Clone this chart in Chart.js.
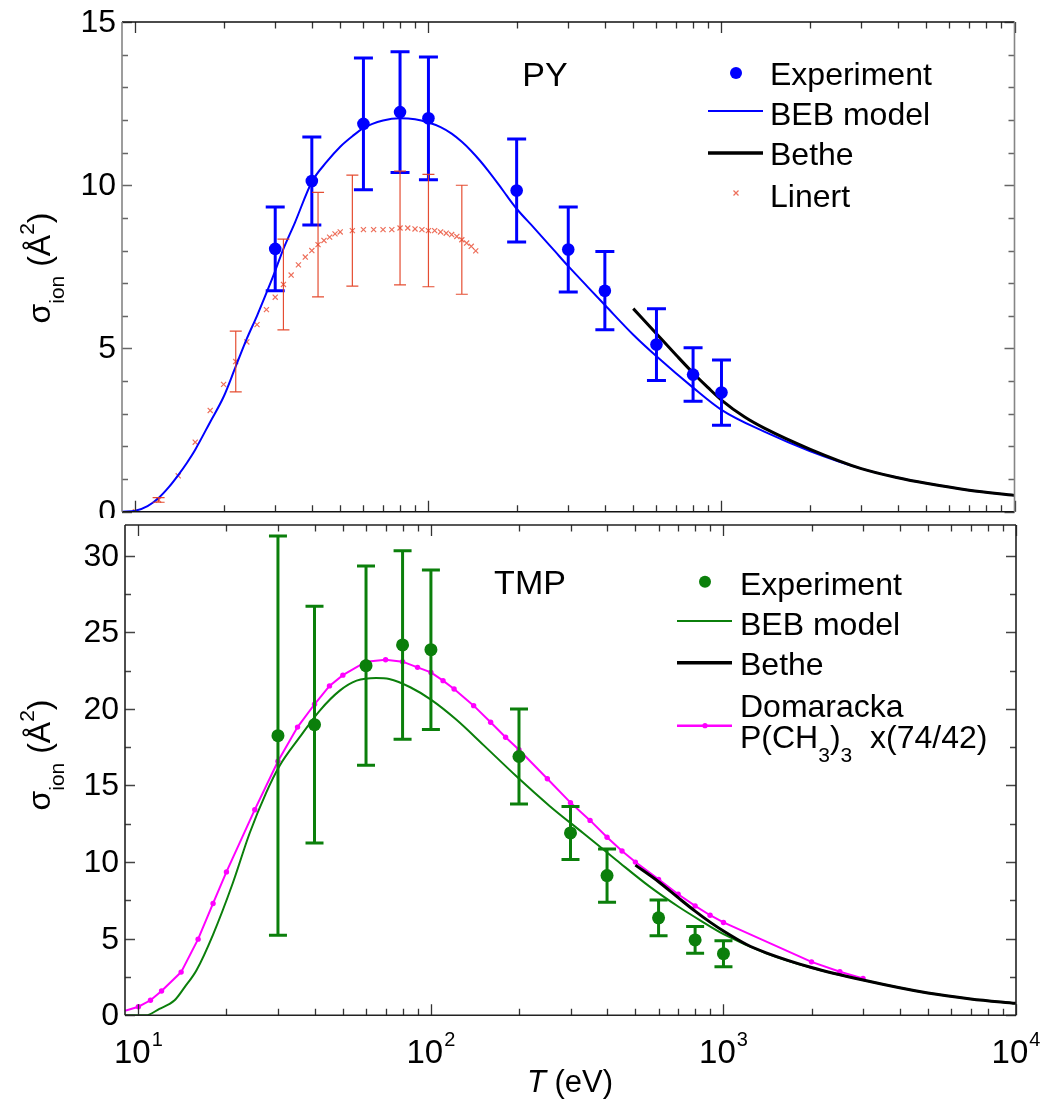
<!DOCTYPE html>
<html>
<head>
<meta charset="utf-8">
<script src="https://cdn.jsdelivr.net/npm/chart.js@4/dist/chart.umd.min.js"></script>
<style>
html,body{margin:0;padding:0;background:#fff;}
#wrap{position:relative;width:1043px;height:1101px;overflow:hidden;}
#c1{position:absolute;left:0;top:0;}
#c2{position:absolute;left:0;top:518px;}
</style>
</head>
<body>
<div id="wrap">
<canvas id="c1" width="1043" height="518"></canvas>
<canvas id="c2" width="1043" height="583"></canvas>
</div>
<script>
// ===================== DATA =====================
// Shared x axis (T in eV, logarithmic)
const xTickDecades = [10, 100, 1000];
const xTickMultipliers = [1, 2, 3, 4, 5, 6, 7, 8, 9];
const xLabelValues = [10, 100, 1000, 10000];

// ---- PY panel ----
const pyExpE   = [30, 40, 60, 80, 100, 200, 300, 400, 600, 800, 1000];
const pyExpV   = [8.05, 10.13, 11.88, 12.24, 12.05, 9.84, 8.03, 6.77, 5.12, 4.2, 3.65];
const pyExpErr = [1.28, 1.35, 2.02, 1.85, 1.88, 1.58, 1.3, 1.2, 1.1, 0.82, 1.0];

const pyBebE = [9, 10, 11, 12, 13, 14, 15, 16, 18, 20, 22, 24, 26, 28, 30, 32, 35, 40, 45, 50, 55, 60, 70, 80, 90, 100, 110, 120, 130, 140, 150, 160, 175, 185, 200, 230, 270, 300, 350, 400, 500, 600, 800, 1000, 1400, 2000, 3000, 4000, 5000, 7000, 10000];
const pyBebV = [0, 0.03, 0.17, 0.42, 0.75, 1.12, 1.5, 1.9, 2.75, 3.52, 4.45, 5.3, 6.0, 6.7, 7.38, 8.05, 8.85, 10.1, 10.72, 11.18, 11.5, 11.75, 11.98, 12.05, 12.02, 11.92, 11.78, 11.58, 11.33, 11.05, 10.75, 10.44, 9.98, 9.68, 9.28, 8.68, 7.98, 7.52, 6.88, 6.33, 5.42, 4.76, 3.8, 3.12, 2.45, 1.86, 1.32, 1.04, 0.87, 0.66, 0.5];

const pyBetheE = [500, 600, 700, 800, 900, 1000, 1200, 1400, 2000, 3000, 4000, 5000, 7000, 10000];
const pyBetheV = [6.22, 5.45, 4.8, 4.25, 3.8, 3.42, 2.9, 2.56, 1.92, 1.32, 1.04, 0.87, 0.66, 0.5];

const linertE   = [10, 12, 14, 16, 18, 20, 22, 24, 26, 28, 30, 32, 34, 36, 38, 40, 42, 44, 46, 48, 50, 55, 60, 65, 70, 75, 80, 85, 90, 95, 100, 105, 110, 115, 120, 125, 130, 135, 140, 145];
const linertV   = [0.0, 0.36, 1.1, 2.13, 3.1, 3.9, 4.6, 5.2, 5.73, 6.19, 6.57, 6.96, 7.25, 7.56, 7.8, 8.0, 8.18, 8.31, 8.41, 8.51, 8.57, 8.61, 8.64, 8.64, 8.64, 8.64, 8.69, 8.69, 8.66, 8.64, 8.61, 8.61, 8.57, 8.53, 8.49, 8.43, 8.33, 8.23, 8.13, 7.99];
const linertErr = [null, 0.07, null, null, null, null, 0.93, null, null, null, null, 1.39, null, null, null, null, 1.6, null, null, null, null, 1.7, null, null, null, null, 1.74, null, null, null, 1.72, null, null, null, null, null, 1.67, null, null, null];

// ---- TMP panel ----
const tmpExpE   = [30, 40, 60, 80, 100, 200, 300, 400, 600, 800, 1000];
const tmpExpV   = [18.25, 18.97, 22.82, 24.17, 23.86, 16.89, 11.9, 9.12, 6.36, 4.92, 4.02];
const tmpExpErr = [13.03, 7.72, 6.5, 6.15, 5.2, 3.1, 1.73, 1.74, 1.17, 0.87, 0.85];

const tmpBebE = [9, 10.6, 11.8, 13.3, 14.4, 15.8, 18, 21, 24, 27.4, 30.4, 35.6, 41.7, 48.8, 55.7, 65, 72, 85, 100, 122, 151, 196, 255, 332, 431, 561, 700, 832, 1000, 1400, 2000, 3000, 5000, 7000, 10000];
const tmpBebV = [0, 0, 0.42, 0.98, 1.84, 2.94, 5.27, 8.6, 11.88, 14.57, 16.29, 18.15, 19.89, 21.19, 21.84, 22.02, 21.95, 21.41, 20.6, 19.3, 17.65, 15.6, 13.65, 11.88, 10.12, 8.38, 7.1, 6.2, 5.3, 4.05, 3.1, 2.3, 1.45, 1.07, 0.78];

const tmpBetheE = [500, 600, 700, 800, 900, 1000, 1200, 1400, 2000, 3000, 5000, 7000, 10000];
const tmpBetheV = [9.8, 8.72, 7.68, 6.8, 6.08, 5.5, 4.62, 4.08, 3.12, 2.3, 1.45, 1.07, 0.78];

const domE = [9, 10, 11, 12, 14, 16, 18, 20, 25, 30, 35, 40, 45, 50, 60, 70, 80, 90, 100, 110, 120, 140, 160, 180, 200, 250, 300, 350, 400, 450, 500, 600, 700, 800, 900, 1000, 2000, 2500, 3000];
const domV = [0.3, 0.56, 0.98, 1.59, 2.82, 4.97, 7.3, 9.36, 13.42, 16.58, 18.81, 20.3, 21.5, 22.2, 23.08, 23.21, 23.08, 22.71, 22.38, 21.84, 21.3, 20.21, 19.13, 18.15, 17.33, 15.44, 13.88, 12.72, 11.62, 10.72, 10.0, 8.87, 7.9, 7.14, 6.53, 6.06, 3.49, 2.84, 2.41];

// ===================== HELPERS =====================
const FONT = "'Liberation Sans', Arial, Helvetica, sans-serif";
const BLUE = '#0000ff', GREEN = '#0b7f0b', MAGENTA = '#ff00ff';
const LRED = 'rgba(232,70,45,0.78)';

function pts(xs, ys) { return xs.map((x, i) => ({x: x, y: ys[i]})); }

const errorBarPlugin = {
  id: 'errorBars',
  afterDatasetsDraw(chart) {
    const ctx = chart.ctx, ys = chart.scales.y, a = chart.chartArea;
    ctx.save();
    ctx.beginPath();
    ctx.rect(a.left, a.top - 1, a.right - a.left, a.bottom - a.top + 2);
    ctx.clip();
    chart.data.datasets.forEach((ds, i) => {
      if (!ds.errorBars) return;
      const meta = chart.getDatasetMeta(i);
      const eb = ds.errorBars;
      ctx.strokeStyle = eb.color;
      ctx.lineWidth = eb.width;
      ds.data.forEach((p, j) => {
        const e = eb.values[j];
        if (e === null || e === undefined) return;
        const x = meta.data[j].x;
        const y1 = ys.getPixelForValue(p.y + e);
        const y2 = ys.getPixelForValue(p.y - e);
        ctx.beginPath();
        ctx.moveTo(x, y1); ctx.lineTo(x, y2);
        ctx.moveTo(x - eb.cap / 2, y1); ctx.lineTo(x + eb.cap / 2, y1);
        ctx.moveTo(x - eb.cap / 2, y2); ctx.lineTo(x + eb.cap / 2, y2);
        ctx.stroke();
      });
    });
    ctx.restore();
  }
};

function drawYTitle(ctx, cx, cy) {
  ctx.save();
  ctx.translate(cx, cy);
  ctx.rotate(-Math.PI / 2);
  const big = '32px ' + FONT, small = '21px ' + FONT;
  const parts = [
    {t: '\u03C3', f: big, dy: 0},
    {t: 'ion', f: small, dy: 14},
    {t: ' (\u00C5', f: big, dy: 0},
    {t: '2', f: small, dy: -16},
    {t: ')', f: big, dy: 0}
  ];
  let total = 0;
  parts.forEach(p => { ctx.font = p.f; p.w = ctx.measureText(p.t).width; total += p.w; });
  let x = -total / 2;
  ctx.fillStyle = '#000';
  ctx.textBaseline = 'alphabetic';
  ctx.textAlign = 'left';
  parts.forEach(p => { ctx.font = p.f; ctx.fillText(p.t, x, p.dy); x += p.w; });
  ctx.restore();
}

function axesPlugin(cfg) {
  return {
    id: 'axes_' + cfg.name,
    afterDraw(chart) {
      const ctx = chart.ctx, a = chart.chartArea, xs = chart.scales.x, ys = chart.scales.y;
      ctx.save();
      // x ticks (inward, bottom and top)
      const xv = [];
      xTickDecades.forEach(d => xTickMultipliers.forEach(m => xv.push(m * d)));
      xv.push(10000);
      ctx.strokeStyle = cfg.tickColor;
      ctx.lineWidth = 1.3;
      xv.forEach(v => {
        if (v < xs.min || v > xs.max) return;
        const px = Math.round(xs.getPixelForValue(v)) + 0.5;
        const major = xLabelValues.indexOf(v) >= 0;
        const len = major ? 11 : 6.5;
        ctx.beginPath();
        ctx.moveTo(px, a.bottom); ctx.lineTo(px, a.bottom - len);
        ctx.moveTo(px, a.top); ctx.lineTo(px, a.top + len);
        ctx.stroke();
      });
      // y ticks (inward, left and right) + labels
      ys.ticks.forEach(t => {
        const v = t.value;
        const major = Math.abs(v / cfg.yMajor - Math.round(v / cfg.yMajor)) < 1e-6;
        const minorOk = Math.abs(v / cfg.yMinor - Math.round(v / cfg.yMinor)) < 1e-6;
        if (!minorOk) return;
        const py = Math.round(ys.getPixelForValue(v)) + 0.5;
        const len = major ? 10 : 6;
        ctx.strokeStyle = cfg.yTickColor;
        ctx.beginPath();
        ctx.moveTo(a.left, py); ctx.lineTo(a.left + len, py);
        ctx.moveTo(a.right, py); ctx.lineTo(a.right - len, py);
        ctx.stroke();
        if (major) {
          ctx.fillStyle = '#000';
          ctx.font = '32px ' + FONT;
          ctx.textAlign = 'right';
          ctx.textBaseline = 'middle';
          ctx.fillText(String(v), a.left - cfg.labelGap, py + 1);
        }
      });
      // frame
      ctx.lineWidth = 1.6;
      ctx.strokeStyle = cfg.frameH;
      ctx.beginPath();
      ctx.moveTo(a.left, a.top); ctx.lineTo(a.right, a.top);
      ctx.moveTo(a.left, a.bottom); ctx.lineTo(a.right, a.bottom);
      ctx.stroke();
      ctx.strokeStyle = cfg.frameV;
      ctx.beginPath();
      ctx.moveTo(a.left, a.top); ctx.lineTo(a.left, a.bottom);
      ctx.moveTo(a.right, a.top); ctx.lineTo(a.right, a.bottom);
      ctx.stroke();

      // x labels (bottom panel only)
      if (cfg.xLabels) {
        ctx.fillStyle = '#000';
        ctx.textAlign = 'left';
        ctx.textBaseline = 'alphabetic';
        xLabelValues.forEach(v => {
          const px = xs.getPixelForValue(v);
          const exp = String(Math.round(Math.log10(v)));
          ctx.font = '33px ' + FONT;
          const w1 = ctx.measureText('10').width;
          ctx.font = '20px ' + FONT;
          const w2 = ctx.measureText(exp).width;
          const x0 = px - (w1 + 1 + w2) / 2;
          ctx.font = '33px ' + FONT;
          ctx.fillText('10', x0, a.bottom + 47.5);
          ctx.font = '20px ' + FONT;
          ctx.fillText(exp, x0 + w1 + 1, a.bottom + 31);
        });
        // x title
        ctx.font = 'italic 31px ' + FONT;
        const tw = ctx.measureText('T').width;
        ctx.fillText('T', 527, a.bottom + 77);
        ctx.font = '31px ' + FONT;
        ctx.fillText(' (eV)', 527 + tw, a.bottom + 77);
      }
      // y title
      drawYTitle(ctx, 50, cfg.yTitleY);
      // panel title
      ctx.fillStyle = '#000';
      ctx.font = '34px ' + FONT;
      ctx.textAlign = 'center';
      ctx.textBaseline = 'alphabetic';
      ctx.fillText(cfg.title, cfg.titleX, cfg.titleY);
      // legend
      cfg.legend(ctx);
      ctx.restore();
    }
  };
}

function legendText(ctx, t, x, y) {
  ctx.fillStyle = '#000';
  ctx.font = '32px ' + FONT;
  ctx.textAlign = 'left';
  ctx.textBaseline = 'alphabetic';
  ctx.fillText(t, x, y);
}
function legendLine(ctx, x1, x2, y, color, w) {
  ctx.strokeStyle = color; ctx.lineWidth = w;
  ctx.beginPath(); ctx.moveTo(x1, y); ctx.lineTo(x2, y); ctx.stroke();
}
function legendDot(ctx, x, y, r, color) {
  ctx.fillStyle = color;
  ctx.beginPath(); ctx.arc(x, y, r, 0, Math.PI * 2); ctx.fill();
}

const baseOptions = (padding, yMax, yStep) => ({
  responsive: false,
  devicePixelRatio: 1,
  animation: false,
  events: [],
  layout: {padding: padding},
  plugins: {legend: {display: false}, tooltip: {enabled: false}, title: {display: false}},
  scales: {
    x: {type: 'logarithmic', min: 9, max: 10000, display: false},
    y: {type: 'linear', min: 0, max: yMax, display: false, ticks: {stepSize: yStep}}
  }
});

// ===================== TOP CHART (PY) =====================
const topOpts = baseOptions({left: 122, right: 28.5, top: 22, bottom: 6}, 15, 1);
new Chart(document.getElementById('c1'), {
  type: 'scatter',
  data: {
    datasets: [
      {label: 'Experiment', data: pts(pyExpE, pyExpV), showLine: false,
       pointRadius: 6.3, pointBackgroundColor: BLUE, pointBorderWidth: 0,
       errorBars: {values: pyExpErr, color: BLUE, width: 3, cap: 19}},
      {label: 'Bethe', data: pts(pyBetheE, pyBetheV), showLine: true, borderColor: '#000',
       borderWidth: 3, pointRadius: 0, cubicInterpolationMode: 'monotone'},
      {label: 'BEB model', data: pts(pyBebE, pyBebV), showLine: true, borderColor: BLUE,
       borderWidth: 2, pointRadius: 0, cubicInterpolationMode: 'monotone'},
      {label: 'Linert', data: pts(linertE, linertV), showLine: false, pointStyle: 'crossRot',
       pointRadius: 3.6, pointBorderColor: LRED, pointBorderWidth: 1.2,
       errorBars: {values: linertErr, color: 'rgba(226,58,28,0.9)', width: 1.2, cap: 12}}
    ]
  },
  options: topOpts,
  plugins: [errorBarPlugin, axesPlugin({
    name: 'top', yMajor: 5, yMinor: 1, labelGap: 6,
    tickColor: '#333', yTickColor: '#666', frameH: '#111', frameV: '#858585',
    xLabels: false, yTitleY: 268, title: 'PY', titleX: 545, titleY: 86,
    legend(ctx) {
      legendDot(ctx, 736, 73, 6, BLUE);
      legendText(ctx, 'Experiment', 770, 85);
      legendLine(ctx, 708, 763, 111, BLUE, 2);
      legendText(ctx, 'BEB model', 770, 125);
      legendLine(ctx, 708, 763, 153, '#000', 3.5);
      legendText(ctx, 'Bethe', 770, 165);
      ctx.strokeStyle = LRED; ctx.lineWidth = 1.2;
      ctx.beginPath();
      ctx.moveTo(733.5, 190.5); ctx.lineTo(738.5, 195.5);
      ctx.moveTo(738.5, 190.5); ctx.lineTo(733.5, 195.5);
      ctx.stroke();
      legendText(ctx, 'Linert', 770, 206.5);
    }
  })]
});

// ===================== BOTTOM CHART (TMP) =====================
const botOpts = baseOptions({left: 125, right: 27, top: 7, bottom: 85.7}, 32, 2.5);
new Chart(document.getElementById('c2'), {
  type: 'scatter',
  data: {
    datasets: [
      {label: 'Experiment', data: pts(tmpExpE, tmpExpV), showLine: false,
       pointRadius: 6.5, pointBackgroundColor: GREEN, pointBorderWidth: 0,
       errorBars: {values: tmpExpErr, color: GREEN, width: 3, cap: 18}},
      {label: 'Bethe', data: pts(tmpBetheE, tmpBetheV), showLine: true, borderColor: '#000',
       borderWidth: 3, pointRadius: 0, cubicInterpolationMode: 'monotone'},
      {label: 'Domaracka P(CH3)3 x(74/42)', data: pts(domE, domV), showLine: true,
       borderColor: MAGENTA, borderWidth: 2, pointBackgroundColor: MAGENTA, pointBorderWidth: 0,
       pointRadius: domE.map(e => e < 10 ? 0 : 2.7)},
      {label: 'BEB model', data: pts(tmpBebE, tmpBebV), showLine: true, borderColor: GREEN,
       borderWidth: 2, pointRadius: 0, cubicInterpolationMode: 'monotone'}
    ]
  },
  options: botOpts,
  plugins: [errorBarPlugin, axesPlugin({
    name: 'bot', yMajor: 5, yMinor: 2.5, labelGap: 6,
    tickColor: '#333', yTickColor: '#444', frameH: '#222', frameV: '#222',
    xLabels: true, yTitleY: 237, title: 'TMP', titleX: 530, titleY: 76,
    legend(ctx) {
      legendDot(ctx, 705, 63.7, 6, GREEN);
      legendText(ctx, 'Experiment', 740, 77);
      legendLine(ctx, 677, 732, 103, GREEN, 2);
      legendText(ctx, 'BEB model', 740, 117);
      legendLine(ctx, 677, 732, 144.7, '#000', 3.5);
      legendText(ctx, 'Bethe', 740, 157);
      legendText(ctx, 'Domaracka', 740, 198.7);
      legendLine(ctx, 677, 732, 207.7, MAGENTA, 2.5);
      legendDot(ctx, 705, 207.7, 2.6, MAGENTA);
      // P(CH3)3  x(74/42)
      const big = '32px ' + FONT, small = '21px ' + FONT;
      const parts = [
        {t: 'P(CH', f: big, dy: 0}, {t: '3', f: small, dy: 14},
        {t: ')', f: big, dy: 0}, {t: '3', f: small, dy: 14},
        {t: '  x(74/42)', f: big, dy: 0}
      ];
      let x = 740;
      ctx.fillStyle = '#000';
      ctx.textAlign = 'left';
      ctx.textBaseline = 'alphabetic';
      parts.forEach(p => { ctx.font = p.f; ctx.fillText(p.t, x, 230 + p.dy); x += ctx.measureText(p.t).width; });
    }
  })]
});
</script>
</body>
</html>
